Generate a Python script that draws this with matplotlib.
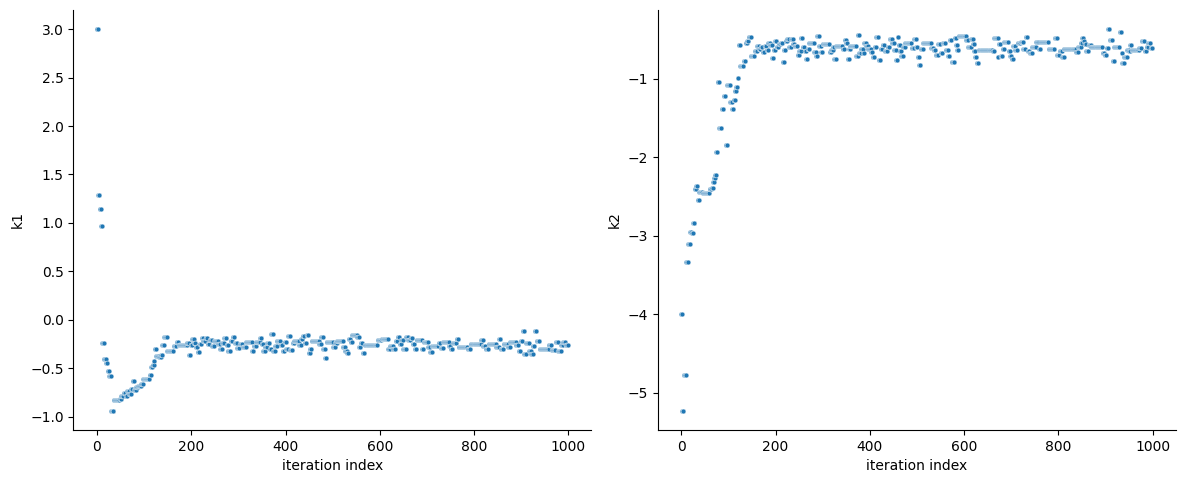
import matplotlib
matplotlib.use("Agg")
import matplotlib.pyplot as plt
import numpy as np
import seaborn as sns

# chain traces, stored as (start iteration, value) of each constant run
n_iter = 1000

k1_start = [0, 3, 6, 9, 11, 15, 20, 23, 26, 30, 36, 48, 52, 57, 61, 64, 69, 73, 76, 79,
            83, 88, 94, 98, 112, 115, 118, 121, 123, 126, 132, 136, 139, 143, 149, 163, 169, 173, 191, 196,
            199, 202, 206, 210, 214, 218, 222, 226, 231, 235, 239, 245, 249, 257, 262, 266, 270, 275, 278, 284,
            288, 292, 298, 303, 309, 317, 329, 333, 338, 346, 350, 353, 357, 361, 367, 370, 374, 378, 382, 390,
            394, 398, 402, 406, 410, 415, 419, 429, 433, 437, 441, 445, 449, 452, 456, 472, 476, 480, 484, 487,
            501, 506, 510, 522, 527, 531, 534, 538, 542, 552, 556, 560, 564, 568, 596, 604, 618, 622, 628, 634,
            638, 642, 646, 650, 656, 660, 666, 670, 674, 678, 690, 693, 703, 707, 711, 725, 729, 735, 747, 751,
            755, 763, 767, 787, 793, 815, 819, 825, 831, 847, 853, 857, 863, 873, 877, 889, 895, 899, 903, 907,
            911, 917, 921, 925, 929, 933, 939, 959, 965, 973, 979, 985, 989, 994]
k1_value = [3.00, 1.29, 1.14, 0.97, -0.24, -0.41, -0.45, -0.53, -0.58, -0.94, -0.83, -0.82, -0.79, -0.76, -0.79, -0.74, -0.77, -0.72, -0.63, -0.73,
            -0.70, -0.68, -0.66, -0.61, -0.57, -0.49, -0.47, -0.43, -0.30, -0.37, -0.39, -0.36, -0.26, -0.18, -0.32, -0.27, -0.23, -0.26, -0.24, -0.36,
            -0.26, -0.20, -0.24, -0.28, -0.33, -0.25, -0.19, -0.22, -0.19, -0.25, -0.21, -0.27, -0.22, -0.25, -0.30, -0.24, -0.19, -0.26, -0.32, -0.22,
            -0.18, -0.24, -0.29, -0.25, -0.28, -0.23, -0.32, -0.27, -0.23, -0.19, -0.25, -0.32, -0.28, -0.24, -0.30, -0.15, -0.32, -0.27, -0.22, -0.26,
            -0.32, -0.23, -0.30, -0.17, -0.31, -0.24, -0.22, -0.26, -0.20, -0.17, -0.24, -0.16, -0.34, -0.30, -0.22, -0.25, -0.18, -0.30, -0.40, -0.23,
            -0.28, -0.24, -0.22, -0.28, -0.32, -0.34, -0.20, -0.23, -0.16, -0.18, -0.28, -0.24, -0.34, -0.26, -0.21, -0.20, -0.30, -0.27, -0.30, -0.22,
            -0.18, -0.25, -0.21, -0.30, -0.18, -0.21, -0.19, -0.25, -0.30, -0.21, -0.30, -0.23, -0.28, -0.33, -0.27, -0.24, -0.29, -0.23, -0.27, -0.30,
            -0.24, -0.20, -0.28, -0.30, -0.25, -0.21, -0.27, -0.30, -0.25, -0.28, -0.20, -0.30, -0.25, -0.28, -0.23, -0.26, -0.32, -0.22, -0.12, -0.35,
            -0.24, -0.32, -0.35, -0.27, -0.12, -0.22, -0.30, -0.26, -0.31, -0.23, -0.32, -0.26, -0.23, -0.26]

k2_start = [0, 2, 5, 11, 15, 19, 22, 25, 29, 32, 35, 38, 46, 60, 65, 68, 70, 72, 74, 77,
            81, 86, 90, 94, 98, 104, 108, 111, 114, 117, 120, 122, 125, 133, 137, 140, 143, 148, 156, 161,
            165, 169, 173, 177, 181, 185, 189, 193, 196, 199, 203, 207, 211, 215, 218, 222, 225, 229, 233, 237,
            241, 247, 250, 254, 258, 262, 265, 268, 272, 282, 286, 289, 293, 297, 300, 315, 318, 322, 325, 329,
            343, 347, 350, 353, 356, 359, 371, 375, 378, 382, 386, 388, 392, 397, 403, 406, 410, 414, 419, 423,
            427, 432, 438, 442, 448, 452, 456, 459, 461, 464, 467, 471, 475, 489, 494, 499, 502, 505, 508, 513,
            527, 530, 536, 540, 545, 550, 555, 561, 566, 570, 574, 580, 583, 586, 589, 605, 609, 615, 619, 622,
            624, 627, 631, 661, 664, 672, 674, 678, 682, 685, 695, 698, 701, 704, 709, 714, 720, 726, 731, 735,
            739, 745, 753, 759, 762, 780, 792, 798, 803, 808, 812, 838, 842, 848, 851, 854, 856, 859, 864, 870,
            894, 898, 903, 906, 909, 915, 919, 924, 930, 934, 936, 940, 946, 950, 953, 956, 972, 977, 983, 987,
            991, 996]
k2_value = [-4.00, -5.23, -4.78, -3.34, -3.10, -2.95, -2.97, -2.84, -2.40, -2.37, -2.54, -2.44, -2.46, -2.40, -2.39, -2.32, -2.27, -2.23, -1.94, -1.04,
            -1.63, -1.38, -1.22, -1.85, -1.08, -1.30, -1.39, -1.27, -1.16, -1.11, -0.99, -0.57, -0.84, -0.78, -0.55, -0.52, -0.47, -0.71, -0.65, -0.58,
            -0.62, -0.60, -0.66, -0.58, -0.63, -0.55, -0.57, -0.74, -0.63, -0.52, -0.60, -0.56, -0.55, -0.79, -0.64, -0.52, -0.49, -0.60, -0.49, -0.56,
            -0.58, -0.70, -0.65, -0.48, -0.60, -0.65, -0.75, -0.62, -0.55, -0.66, -0.71, -0.45, -0.58, -0.66, -0.56, -0.66, -0.63, -0.60, -0.75, -0.58,
            -0.62, -0.51, -0.54, -0.75, -0.62, -0.58, -0.71, -0.44, -0.67, -0.62, -0.67, -0.55, -0.58, -0.62, -0.66, -0.72, -0.60, -0.47, -0.76, -0.62,
            -0.57, -0.65, -0.59, -0.50, -0.55, -0.63, -0.76, -0.47, -0.57, -0.65, -0.71, -0.60, -0.55, -0.61, -0.50, -0.60, -0.72, -0.83, -0.62, -0.55,
            -0.55, -0.61, -0.64, -0.70, -0.56, -0.67, -0.55, -0.63, -0.71, -0.51, -0.79, -0.48, -0.57, -0.64, -0.46, -0.51, -0.59, -0.50, -0.56, -0.65,
            -0.73, -0.80, -0.64, -0.65, -0.48, -0.72, -0.56, -0.71, -0.62, -0.53, -0.65, -0.71, -0.75, -0.58, -0.64, -0.55, -0.53, -0.62, -0.47, -0.65,
            -0.67, -0.60, -0.53, -0.62, -0.53, -0.62, -0.48, -0.70, -0.65, -0.72, -0.62, -0.66, -0.60, -0.54, -0.48, -0.52, -0.56, -0.65, -0.57, -0.59,
            -0.67, -0.70, -0.61, -0.37, -0.51, -0.77, -0.60, -0.59, -0.41, -0.67, -0.80, -0.72, -0.63, -0.65, -0.57, -0.63, -0.61, -0.52, -0.65, -0.59,
            -0.54, -0.61]


def expand(starts, values):
    runs = np.diff(np.append(starts, n_iter))
    return np.repeat(values, runs)


iteration = np.arange(n_iter)
k1 = expand(k1_start, k1_value)
k2 = expand(k2_start, k2_value)

fig, axes = plt.subplots(1, 2, figsize=(11.84, 4.84), dpi=100)
fig.subplots_adjust(left=0.062, right=0.993, bottom=0.112, top=0.979, wspace=0.128)
for ax, trace, name in zip(axes, [k1, k2], ["k1", "k2"]):
    sns.scatterplot(x=iteration, y=trace, s=12, color="#1f77b4", edgecolor="white",
                    linewidth=0.3, ax=ax)
    ax.set_xlabel("iteration index")
    ax.set_ylabel(name)
    sns.despine(ax=ax)

plt.savefig("out.png", dpi=100)
plt.close()
